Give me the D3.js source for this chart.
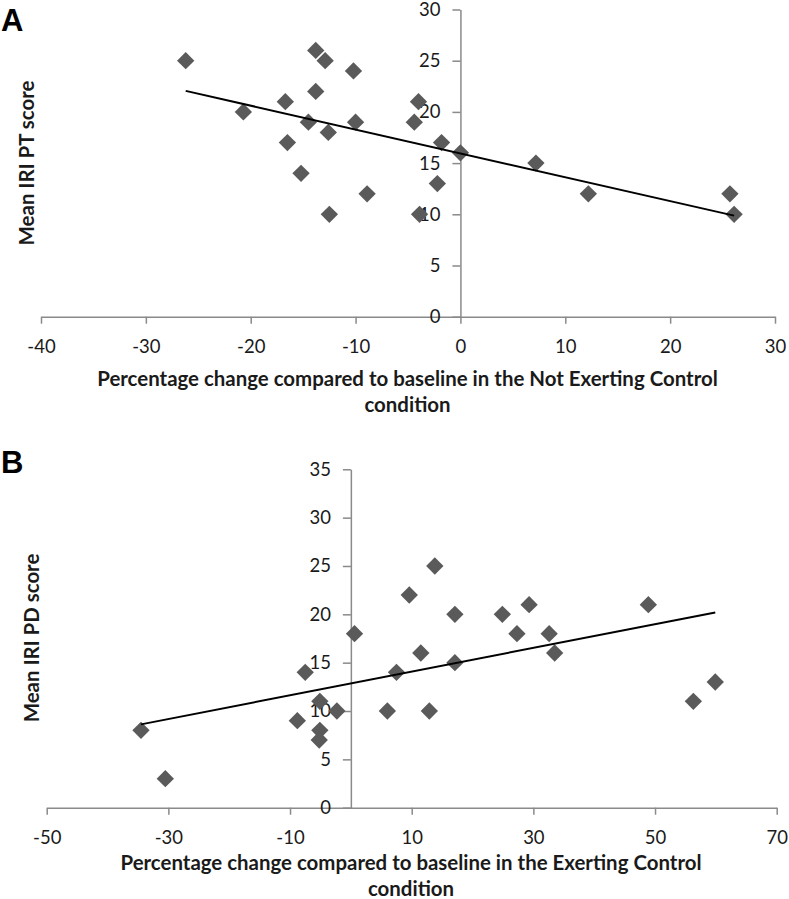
<!DOCTYPE html>
<html>
<head>
<meta charset="utf-8">
<script src="https://cdn.jsdelivr.net/npm/d3@7"></script>
<style>
  html, body { margin: 0; padding: 0; background: #fff; }
  svg { display: block; }
</style>
</head>
<body>
<svg id="chart" width="789" height="899"></svg>
<script>
// ---------- Panel A data (Not Exerting Control) ----------
const pctChangeA = [-26.2, -20.7, -16.7, -16.5, -15.2, -14.5, -13.8, -13.8, -12.9, -12.6, -12.5, -10.2, -10.0, -8.9, -4.0, -4.4, -3.9, -1.8, -2.2, 0.0, 7.2, 12.2, 25.7, 26.1];
const iriPT      = [25, 20, 21, 17, 14, 19, 26, 22, 25, 18, 10, 24, 19, 12, 21, 19, 10, 17, 13, 16, 15, 12, 12, 10];
const trendA = { slope: -0.233, intercept: 15.95 };
const xTicksA = [-40, -30, -20, -10, 0, 10, 20, 30];
const yTicksA = [0, 5, 10, 15, 20, 25, 30];

// ---------- Panel B data (Exerting Control) ----------
const pctChangeB = [-34.5, -30.5, -8.8, -7.5, -5.1, -5.1, -5.2, -2.3, 0.6, 6.0, 7.5, 9.6, 11.5, 12.9, 13.8, 17.1, 17.1, 24.9, 27.3, 29.3, 32.6, 33.5, 48.9, 56.3, 59.9];
const iriPD      = [8, 3, 9, 14, 11, 8, 7, 10, 18, 10, 14, 22, 16, 10, 25, 20, 15, 20, 18, 21, 18, 16, 21, 11, 13];
const trendB = { slope: 0.1227, intercept: 12.85 };
const xTicksB = [-50, -30, -10, 10, 30, 50, 70];
const yTicksB = [0, 5, 10, 15, 20, 25, 30, 35];

const titleLine1A = "Percentage change compared to baseline in the Not Exerting Control";
const titleLine1B = "Percentage change compared to baseline in the Exerting Control";
const titleLine2 = "condition";
const yTitleA = "Mean IRI PT score";
const yTitleB = "Mean IRI PD score";

const svg = d3.select("#chart");
const AXIS = "#8a8a8a";
const MARK = "#5a5a5a";
const TXT = "#1a1a1a";
const tickFont = "Lato, 'Open Sans', sans-serif";
const titleFont = "Lato, 'Open Sans', sans-serif";
const fmt = d => String(d);

function fitSize(text, targetW, base) {
  const t = svg.append("text").attr("font-family", titleFont).attr("font-weight", "bold")
    .attr("font-size", base).text(text);
  const w = t.node().getComputedTextLength();
  t.remove();
  return base * targetW / w;
}
const titleSize = fitSize(titleLine1A, 621, 20);

function panel(cfg) {
  const g = svg.append("g");
  const x = d3.scaleLinear().domain(cfg.xDomain).range(cfg.xRange);
  const y = d3.scaleLinear().domain(cfg.yDomain).range(cfg.yRange);

  const xAxis = g.append("g").attr("transform", `translate(0,${y(0)})`)
    .call(d3.axisBottom(x).tickValues(cfg.xTicks).tickSize(7).tickSizeOuter(0).tickFormat(fmt));
  xAxis.select(".domain").attr("stroke", AXIS).attr("stroke-width", 1.5);
  xAxis.selectAll(".tick line").attr("stroke", AXIS).attr("stroke-width", 1.5);
  xAxis.selectAll(".tick text").attr("fill", TXT).attr("font-family", tickFont)
    .attr("font-size", 18.5).attr("y", 36.5).attr("dy", null);

  const yAxis = g.append("g").attr("transform", `translate(${x(0)},0)`)
    .call(d3.axisLeft(y).tickValues(cfg.yTicks).tickSize(8).tickSizeOuter(0).tickPadding(12).tickFormat(fmt));
  yAxis.select(".domain").attr("stroke", AXIS).attr("stroke-width", 1.5);
  yAxis.selectAll(".tick line").attr("stroke", AXIS).attr("stroke-width", 1.5);
  yAxis.selectAll(".tick text").attr("fill", TXT).attr("font-family", tickFont)
    .attr("font-size", 18.5);

  const pts = cfg.xs.map((v, i) => [v, cfg.ys[i]]);
  const sym = d3.symbol().type(d3.symbolSquare).size(150);
  g.append("g").selectAll("path").data(pts).join("path")
    .attr("d", sym)
    .attr("transform", d => `translate(${x(d[0])},${y(d[1])}) rotate(45)`)
    .attr("fill", MARK);

  const ext = d3.extent(cfg.xs);
  const line = d3.line().x(d => x(d)).y(d => y(cfg.trend.slope * d + cfg.trend.intercept));
  g.append("path").datum(ext).attr("d", line).attr("fill", "none")
    .attr("stroke", "#000").attr("stroke-width", 2);

  g.append("text").attr("x", cfg.xTitleX).attr("y", cfg.xTitleY)
    .attr("text-anchor", "middle").attr("font-family", titleFont).attr("font-weight", "bold")
    .attr("font-size", titleSize).attr("fill", TXT).text(cfg.xTitle1);
  g.append("text").attr("x", cfg.xTitleX).attr("y", cfg.xTitleY + 26)
    .attr("text-anchor", "middle").attr("font-family", titleFont).attr("font-weight", "bold")
    .attr("font-size", titleSize).attr("fill", TXT).text(titleLine2);

  g.append("text").attr("transform", `translate(${cfg.yTitleX},${cfg.yTitleY}) rotate(-90)`)
    .attr("text-anchor", "middle").attr("font-family", titleFont).attr("font-weight", "bold")
    .attr("font-size", titleSize).attr("fill", TXT).text(cfg.yTitle);

  g.append("text").attr("x", 1).attr("y", cfg.letterY)
    .attr("font-family", "'Liberation Sans', Arial, sans-serif").attr("font-weight", "bold")
    .attr("font-size", 31).attr("fill", "#000").text(cfg.letter);
}

panel({
  xDomain: [-40, 30], xRange: [41, 775],
  yDomain: [0, 30], yRange: [316.7, 9.5],
  xTicks: xTicksA, yTicks: yTicksA,
  xs: pctChangeA, ys: iriPT, trend: trendA,
  xTitle1: titleLine1A, xTitleX: 407.5, xTitleY: 386,
  yTitle: yTitleA, yTitleX: 33.5, yTitleY: 163,
  letter: "A", letterY: 31
});

panel({
  xDomain: [-50, 70], xRange: [46.7, 776.7],
  yDomain: [0, 35], yRange: [807.7, 469.3],
  xTicks: xTicksB, yTicks: yTicksB,
  xs: pctChangeB, ys: iriPD, trend: trendB,
  xTitle1: titleLine1B, xTitleX: 411, xTitleY: 870,
  yTitle: yTitleB, yTitleX: 38.5, yTitleY: 638,
  letter: "B", letterY: 473
});
</script>
</body>
</html>
